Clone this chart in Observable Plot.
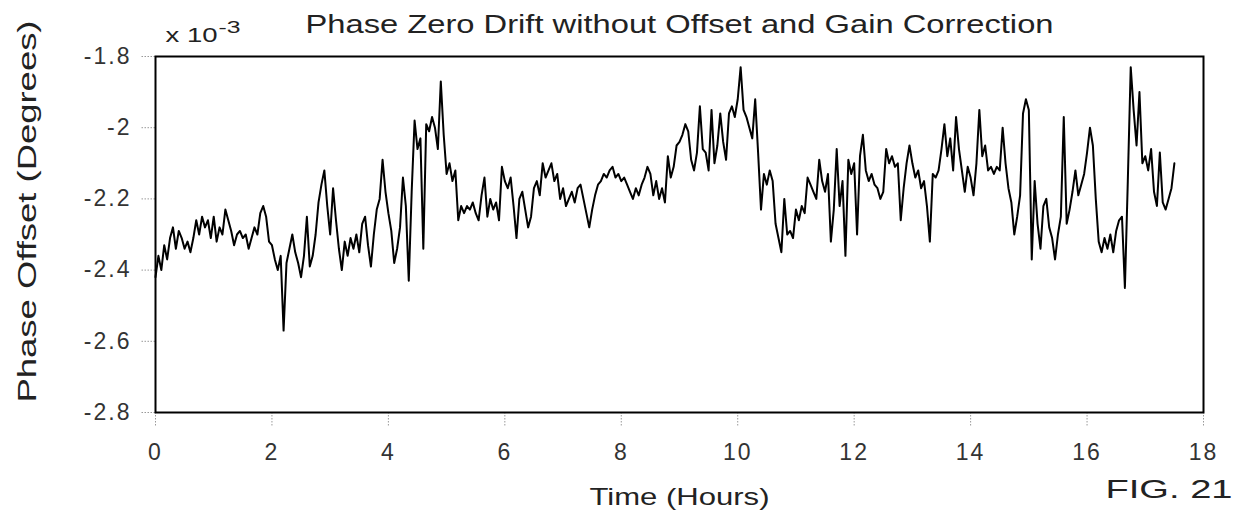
<!DOCTYPE html>
<html>
<head>
<meta charset="utf-8">
<script src="https://cdn.jsdelivr.net/npm/d3@7"></script>
<script src="https://cdn.jsdelivr.net/npm/@observablehq/plot@0.6"></script>
<style>
  html, body { margin: 0; padding: 0; background: #fff; }
  #chart { width: 1236px; height: 524px; }
</style>
</head>
<body>
<div id="chart"></div>
<script>
// ---- Data (phase offset in units of 1e-3 degrees, sampled every 0.05 h) ----
const title = "Phase Zero Drift without Offset and Gain Correction";
const xLabel = "Time (Hours)";
const yLabel = "Phase Offset (Degrees)";
const figLabel = "FIG. 21";
const scaleLabel = "x 10";
const scaleExponent = "-3";
const xTicks = [0, 2, 4, 6, 8, 10, 12, 14, 16, 18];
const yTicks = [-2.8, -2.6, -2.4, -2.2, -2, -1.8];
const startHour = 0;
const stepHour = 0.05;
const phaseOffset = [
  // 0 - 1 h
  -2.42, -2.36, -2.40, -2.33, -2.37, -2.31, -2.28, -2.34, -2.29, -2.31,
  -2.34, -2.32, -2.35, -2.31, -2.26, -2.30, -2.25, -2.28, -2.26, -2.31,
  // 1 - 2 h
  -2.25, -2.32, -2.28, -2.30, -2.23, -2.26, -2.29, -2.33, -2.30, -2.29,
  -2.31, -2.30, -2.34, -2.31, -2.28, -2.30, -2.24, -2.22, -2.25, -2.32,
  // 2 - 3 h
  -2.33, -2.37, -2.40, -2.36, -2.57, -2.38, -2.34, -2.30, -2.35, -2.38,
  -2.42, -2.36, -2.25, -2.39, -2.36, -2.30, -2.21, -2.16, -2.12, -2.22,
  // 3 - 4 h
  -2.30, -2.17, -2.26, -2.34, -2.40, -2.32, -2.36, -2.31, -2.34, -2.30,
  -2.35, -2.27, -2.25, -2.33, -2.39, -2.30, -2.23, -2.20, -2.09, -2.18,
  // 4 - 5 h
  -2.24, -2.29, -2.38, -2.34, -2.28, -2.14, -2.22, -2.43, -2.18, -1.98,
  -2.06, -2.03, -2.34, -1.99, -2.01, -1.97, -2.00, -2.06, -1.87, -2.02,
  // 5 - 6 h
  -2.13, -2.10, -2.15, -2.12, -2.26, -2.22, -2.24, -2.22, -2.23, -2.21,
  -2.24, -2.26, -2.19, -2.14, -2.25, -2.20, -2.23, -2.21, -2.26, -2.11,
  // 6 - 7 h
  -2.15, -2.17, -2.14, -2.22, -2.31, -2.20, -2.18, -2.23, -2.28, -2.25,
  -2.17, -2.15, -2.19, -2.10, -2.14, -2.12, -2.10, -2.15, -2.13, -2.20,
  // 7 - 8 h
  -2.17, -2.22, -2.20, -2.18, -2.21, -2.17, -2.16, -2.20, -2.24, -2.28,
  -2.23, -2.19, -2.16, -2.15, -2.13, -2.14, -2.12, -2.11, -2.14, -2.13,
  // 8 - 9 h
  -2.15, -2.14, -2.16, -2.18, -2.20, -2.17, -2.19, -2.16, -2.14, -2.11,
  -2.13, -2.19, -2.15, -2.20, -2.17, -2.21, -2.08, -2.14, -2.11, -2.05,
  // 9 - 10 h
  -2.04, -2.02, -1.99, -2.01, -2.09, -2.12, -2.07, -1.94, -2.06, -2.07,
  -2.12, -1.95, -2.10, -2.05, -1.96, -2.04, -2.09, -1.96, -1.94, -1.97,
  // 10 - 11 h
  -1.92, -1.83, -1.95, -1.97, -2.00, -2.03, -1.92, -2.07, -2.23, -2.13,
  -2.16, -2.12, -2.15, -2.27, -2.31, -2.35, -2.20, -2.30, -2.29, -2.31,
  // 11 - 12 h
  -2.23, -2.26, -2.22, -2.24, -2.14, -2.16, -2.18, -2.20, -2.09, -2.15,
  -2.18, -2.13, -2.32, -2.23, -2.06, -2.22, -2.15, -2.36, -2.09, -2.13,
  // 12 - 13 h
  -2.10, -2.30, -2.08, -2.02, -2.12, -2.15, -2.13, -2.16, -2.17, -2.20,
  -2.18, -2.06, -2.10, -2.08, -2.11, -2.10, -2.26, -2.17, -2.10, -2.05,
  // 13 - 14 h
  -2.10, -2.14, -2.12, -2.17, -2.15, -2.22, -2.32, -2.13, -2.14, -2.12,
  -2.06, -1.99, -2.08, -2.03, -2.12, -1.97, -2.06, -2.12, -2.18, -2.11,
  // 14 - 15 h
  -2.14, -2.19, -2.10, -1.95, -2.08, -2.05, -2.12, -2.11, -2.13, -2.11,
  -2.12, -2.00, -2.10, -2.17, -2.21, -2.30, -2.25, -2.19, -1.96, -1.92,
  // 15 - 16 h
  -1.95, -2.37, -2.15, -2.27, -2.34, -2.22, -2.20, -2.28, -2.31, -2.37,
  -2.30, -2.25, -1.97, -2.27, -2.23, -2.18, -2.12, -2.19, -2.16, -2.13,
  // 16 - 17 h
  -2.07, -2.00, -2.05, -2.20, -2.32, -2.35, -2.31, -2.34, -2.30, -2.35,
  -2.29, -2.26, -2.25, -2.45, -2.15, -1.83, -1.95, -2.05, -1.90, -2.10,
  // 17 - 17.5 h
  -2.08, -2.12, -2.06, -2.18, -2.22, -2.07, -2.21, -2.23, -2.20, -2.17,
  -2.10
];

const series = phaseOffset.map((v, i) => ({hours: startHour + i * stepHour, offset: v}));

const FONT = "'Liberation Sans', Arial, Helvetica, sans-serif";

const chart = Plot.plot({
  width: 1236,
  height: 524,
  marginLeft: 155,
  marginRight: 33,
  marginTop: 56,
  marginBottom: 112,
  style: {fontFamily: FONT, background: "#fff", color: "#000", overflow: "visible"},
  x: {domain: [0, 18], label: null},
  y: {domain: [-2.8, -1.8], label: null},
  marks: [
    Plot.axisX({
      ticks: xTicks, tickFormat: d => String(d), tickSize: 14, tickPadding: 17,
      stroke: "#999", strokeDasharray: "1.5,1.5", fontSize: 23, fill: "#333", label: null
    }),
    Plot.axisY({
      ticks: yTicks, tickFormat: d => String(+d.toFixed(1)), tickSize: 14, tickPadding: 10,
      stroke: "#999", strokeDasharray: "1.5,1.5", fontSize: 23, fill: "#333", label: null
    }),
    Plot.line(series, {x: "hours", y: "offset", stroke: "#000", strokeWidth: 2}),
    Plot.frame({stroke: "#000", strokeWidth: 2}),
    Plot.text([title], {frameAnchor: "top", dy: -32, fontSize: 25, fill: "#222", lineAnchor: "middle"}),
    Plot.text([scaleLabel], {frameAnchor: "top-left", dx: 10, dy: -21, fontSize: 21, fill: "#222", textAnchor: "start", lineAnchor: "middle"}),
    Plot.text([scaleExponent], {frameAnchor: "top-left", dx: 63, dy: -29, fontSize: 17, fill: "#222", textAnchor: "start", lineAnchor: "middle"}),
    Plot.text([yLabel], {frameAnchor: "left", dx: -128, dy: -23, rotate: -90, fontSize: 26, fill: "#222", textAnchor: "middle", lineAnchor: "middle"}),
    Plot.text([xLabel], {frameAnchor: "bottom", dy: 85, fontSize: 24, fill: "#222", lineAnchor: "middle"}),
    Plot.text([figLabel], {frameAnchor: "bottom-right", dx: 29, dy: 77, fontSize: 26, fill: "#222", textAnchor: "end", lineAnchor: "middle"})
  ]
});

// Stretch the wide lettering of the original figure
const stretch = {[title]: 748, [yLabel]: 382, [xLabel]: 180, [figLabel]: 127, [scaleLabel]: 52, [scaleExponent]: 22};
d3.select(chart).selectAll("text").each(function () {
  const t = this.textContent;
  if (stretch[t] && this.childElementCount === 0) {
    this.setAttribute("textLength", stretch[t]);
    this.setAttribute("lengthAdjust", "spacingAndGlyphs");
  }
});
d3.select(chart).selectAll("g[aria-label='x-axis tick label'] text, g[aria-label='y-axis tick label'] text")
  .attr("letter-spacing", "2px");

document.getElementById("chart").appendChild(chart);
</script>
</body>
</html>
